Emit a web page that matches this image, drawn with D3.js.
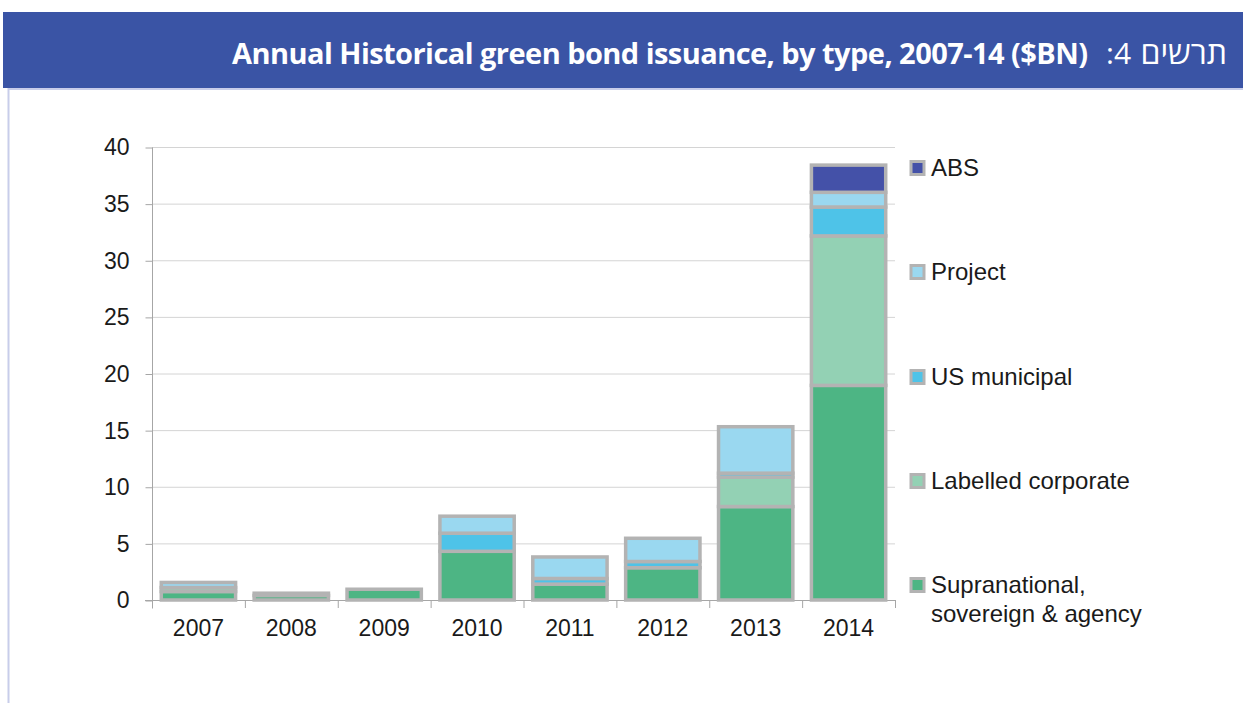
<!DOCTYPE html>
<html>
<head>
<meta charset="utf-8">
<script src="https://cdn.jsdelivr.net/npm/d3@7"></script>
<style>
  body { margin: 0; background: #fff; }
  svg { display: block; }
</style>
</head>
<body>
<svg></svg>
<script>
var years = ["2007", "2008", "2009", "2010", "2011", "2012", "2013", "2014"];
var supranational = [0.75, 0.4, 0.95, 4.3, 1.4, 2.85, 8.25, 18.95];
var labelled = [0.35, 0, 0, 0, 0, 0, 2.6, 13.2];
var usMunicipal = [0, 0, 0, 1.6, 0.5, 0.55, 0.35, 2.55];
var project = [0.45, 0.2, 0, 1.5, 1.9, 2.05, 4.1, 1.3];
var abs = [0, 0, 0, 0, 0, 0, 0, 2.4];
var yTicks = [0, 5, 10, 15, 20, 25, 30, 35, 40];

var seriesNames = ["Supranational, sovereign & agency", "Labelled corporate", "US municipal", "Project", "ABS"];
var seriesKeys = ["supra", "labelled", "muni", "project", "abs"];
var colors = ["#4db584", "#93d1b4", "#4ec3e8", "#9ad8f0", "#4451a8"];

var svg = d3.select("svg")
    .attr("width", 1243)
    .attr("height", 703);

// header band
svg.append("rect").attr("x", 3).attr("y", 12).attr("width", 1240).attr("height", 76).attr("fill", "#3a54a5");
svg.append("line").attr("x1", 8).attr("x2", 1243).attr("y1", 89).attr("y2", 89)
    .attr("stroke", "#c8cdea").attr("stroke-width", 2);
svg.append("line").attr("x1", 8.5).attr("x2", 8.5).attr("y1", 88).attr("y2", 703)
    .attr("stroke", "#c8cdea").attr("stroke-width", 2);

// title: bold english part, regular number and hebrew label
var title = svg.append("g")
    .attr("fill", "#fff")
    .attr("font-family", "Open Sans")
    .attr("font-size", 29);
title.append("text")
    .attr("x", 232).attr("y", 64)
    .attr("font-weight", "bold")
    .attr("letter-spacing", -0.55)
    .text("Annual Historical green bond issuance, by type, 2007-14 ($BN)");
title.append("text")
    .attr("x", 1106).attr("y", 64)
    .attr("font-size", 30)
    .text(":4");
title.append("text")
    .attr("x", 1227).attr("y", 64)
    .attr("text-anchor", "end")
    .attr("font-size", 32)
    .text("\u05EA\u05E8\u05E9\u05D9\u05DD");

var table = years.map(function(y, i) {
    return { year: y, supra: supranational[i], labelled: labelled[i], muni: usMunicipal[i], project: project[i], abs: abs[i] };
});
var stacked = d3.stack().keys(seriesKeys)(table);

var x = d3.scaleBand().domain(years).range([152, 895]).paddingInner(0.2).paddingOuter(0.1);
var y = d3.scaleLinear().domain([0, 40]).range([600, 147]);

var font = "Liberation Sans, Arial, sans-serif";

// gridlines
svg.append("g").selectAll("line")
    .data(yTicks.filter(d => d > 0))
    .enter().append("line")
    .attr("x1", 152).attr("x2", 895)
    .attr("y1", d => y(d) + 0.5).attr("y2", d => y(d) + 0.5)
    .attr("stroke", "#d4d4d4");

// y axis
var yAxis = svg.append("g")
    .attr("transform", "translate(152.5,0.5)")
    .call(d3.axisLeft(y).tickValues(yTicks).tickSize(7).tickPadding(16));
yAxis.select(".domain").attr("stroke", "#a6a6a6").attr("d", "M0," + y(40) + "V" + (y(0) + 8));
yAxis.selectAll(".tick line").attr("stroke", "#a6a6a6");
yAxis.selectAll("text").attr("font-family", font).attr("font-size", 23).attr("fill", "#1a1a1a");

// x axis
var xAxis = svg.append("g")
    .attr("transform", "translate(0,600.5)")
    .call(d3.axisBottom(x).tickSize(0).tickPadding(19.5));
xAxis.select(".domain").attr("stroke", "#a6a6a6").attr("d", "M145,0H895");
xAxis.selectAll("text").attr("font-family", font).attr("font-size", 23).attr("fill", "#1a1a1a");
var step = x.step();
svg.append("g").selectAll("line")
    .data(d3.range(years.length + 1))
    .enter().append("line")
    .attr("x1", i => 152.5 + i * step).attr("x2", i => 152.5 + i * step)
    .attr("y1", 600).attr("y2", 608)
    .attr("stroke", "#a6a6a6");

// bars
svg.append("g").selectAll("g")
    .data(stacked)
    .enter().append("g")
    .attr("fill", (d, i) => colors[i])
    .selectAll("rect")
    .data(d => d.filter(s => s[1] - s[0] > 0))
    .enter().append("rect")
    .attr("x", d => x(d.data.year))
    .attr("width", x.bandwidth())
    .attr("y", d => y(d[1]))
    .attr("height", d => y(d[0]) - y(d[1]))
    .attr("stroke", "#b3b3b3")
    .attr("stroke-width", 3.5);

// legend
var legendY = [585, 481, 377, 272, 168];
var legend = svg.append("g").selectAll("g")
    .data(seriesNames)
    .enter().append("g")
    .attr("transform", (d, i) => "translate(911," + legendY[i] + ")");
legend.append("rect")
    .attr("x", 0).attr("y", -6.5).attr("width", 13).attr("height", 13)
    .attr("fill", (d, i) => colors[i])
    .attr("stroke", "#b3b3b3").attr("stroke-width", 3);
legend.append("text")
    .attr("x", 20).attr("y", 8)
    .attr("font-family", font).attr("font-size", 24).attr("fill", "#1a1a1a")
    .each(function(d) {
        var parts = d.split(", ");
        var t = d3.select(this);
        if (parts.length > 1) {
            t.append("tspan").attr("x", 20).text(parts[0] + ",");
            t.append("tspan").attr("x", 20).attr("dy", 29).text(parts[1]);
        } else {
            t.text(d);
        }
    });
</script>
</body>
</html>
